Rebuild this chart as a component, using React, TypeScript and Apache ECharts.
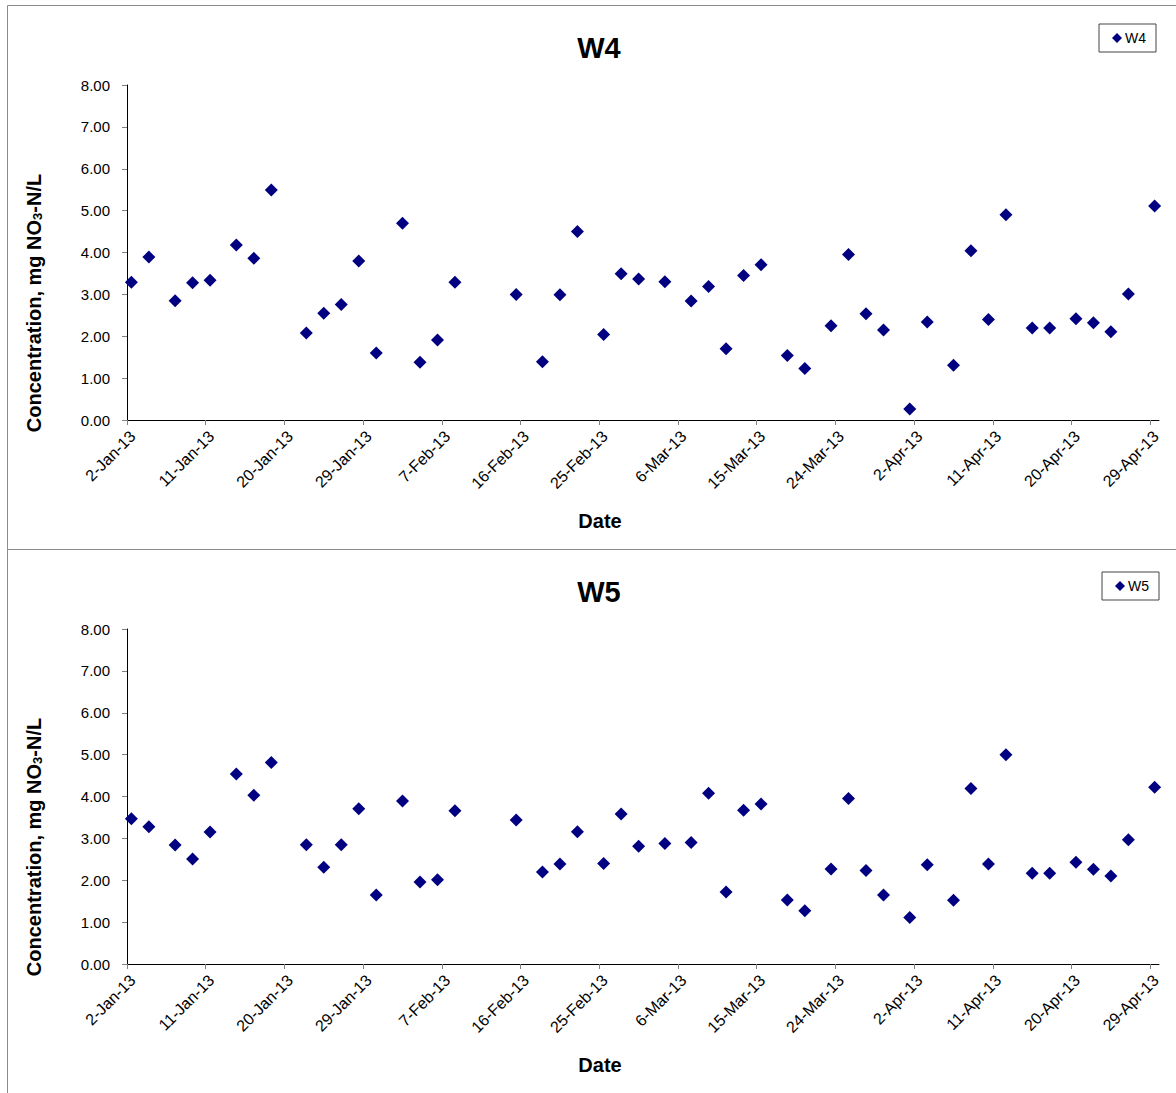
import React, { useEffect, useRef } from "react";
import * as echarts from "echarts";

// Sampling dates (samples drawn around midday)
const DATES = [
  "2013-01-02", "2013-01-04", "2013-01-07", "2013-01-09", "2013-01-11", "2013-01-14", "2013-01-16",
  "2013-01-18", "2013-01-22", "2013-01-24", "2013-01-26", "2013-01-28", "2013-01-30",
  "2013-02-02", "2013-02-04", "2013-02-06", "2013-02-08", "2013-02-15", "2013-02-18", "2013-02-20",
  "2013-02-22", "2013-02-25", "2013-02-27",
  "2013-03-01", "2013-03-04", "2013-03-07", "2013-03-09", "2013-03-11", "2013-03-13", "2013-03-15",
  "2013-03-18", "2013-03-20", "2013-03-23", "2013-03-25", "2013-03-27", "2013-03-29",
  "2013-04-01", "2013-04-03", "2013-04-06", "2013-04-08", "2013-04-10", "2013-04-12", "2013-04-15",
  "2013-04-17", "2013-04-20", "2013-04-22", "2013-04-24", "2013-04-26", "2013-04-29",
];
const SAMPLE_HOUR = 12;

const W4 = [
  3.29, 3.89, 2.85, 3.28, 3.34, 4.18, 3.86, 5.49, 2.08, 2.55, 2.76, 3.8, 1.6,
  4.7, 1.38, 1.91, 3.29, 3.0, 1.39, 2.99, 4.5, 2.04, 3.49,
  3.37, 3.3, 2.84, 3.19, 1.7, 3.45, 3.71, 1.54, 1.23, 2.25, 3.95, 2.54, 2.15,
  0.26, 2.34, 1.31, 4.04, 2.4, 4.9, 2.2, 2.2, 2.42, 2.32, 2.11, 3.01, 5.11,
];

const W5 = [
  3.47, 3.28, 2.84, 2.51, 3.15, 4.54, 4.03, 4.81, 2.85, 2.31, 2.85, 3.71, 1.65,
  3.89, 1.96, 2.01, 3.66, 3.44, 2.2, 2.39, 3.16, 2.4, 3.58,
  2.81, 2.88, 2.9, 4.08, 1.72, 3.67, 3.82, 1.53, 1.27, 2.27, 3.95, 2.23, 1.65,
  1.11, 2.37, 1.52, 4.19, 2.39, 5.0, 2.17, 2.17, 2.43, 2.26, 2.1, 2.97, 4.22,
];

const X_TICK_LABELS = [
  "2-Jan-13", "11-Jan-13", "20-Jan-13", "29-Jan-13", "7-Feb-13", "16-Feb-13", "25-Feb-13",
  "6-Mar-13", "15-Mar-13", "24-Mar-13", "2-Apr-13", "11-Apr-13", "20-Apr-13", "29-Apr-13",
];
const X_MIN_DATE = "2013-01-02";
const X_MAX_DATE = "2013-04-30";
const Y_MIN = 0;
const Y_MAX = 8;
const Y_INTERVAL = 1;

const MONTHS = ["Jan", "Feb", "Mar", "Apr", "May", "Jun", "Jul", "Aug", "Sep", "Oct", "Nov", "Dec"];
const DAY_MS = 86400000;
const utcOf = (s: string) => {
  const [y, m, d] = s.split("-").map(Number);
  return Date.UTC(y, m - 1, d);
};
const BASE = utcOf(X_MIN_DATE);
const dayOf = (s: string) => (utcOf(s) - BASE) / DAY_MS;
const labelDay = (lab: string) => {
  const [d, mon, yy] = lab.split("-");
  return (Date.UTC(2000 + Number(yy), MONTHS.indexOf(mon), Number(d)) - BASE) / DAY_MS;
};
const TICK_DAYS = X_TICK_LABELS.map(labelDay);
const X_MAX = dayOf(X_MAX_DATE);

const FONT = "Liberation Sans, Arial, sans-serif";

export default function App() {
  const ref = useRef<HTMLDivElement>(null);

  useEffect(() => {
    if (!ref.current) return;
    const chart = echarts.init(ref.current, undefined, { renderer: "svg" });

    const grids = [
      { left: 127, top: 85, width: 1032, height: 335 },
      { left: 127, top: 629, width: 1032, height: 335 },
    ];

    const xAxisBase = (gi: number) => ({
      type: "value",
      gridIndex: gi,
      min: 0,
      max: X_MAX,
      splitLine: { show: false },
      axisLine: { show: true, onZero: false, lineStyle: { color: "#000", width: 1 } },
      axisTick: {
        show: true,
        length: 5,
        customValues: TICK_DAYS,
        lineStyle: { color: "#808080" },
      },
      axisLabel: {
        customValues: TICK_DAYS,
        rotate: 45,
        margin: 8,
        verticalAlign: "top",
        fontSize: 16,
        fontFamily: FONT,
        color: "#000",
        formatter: (v: number) => {
          const i = TICK_DAYS.findIndex((t) => Math.abs(t - v) < 1e-6);
          return i >= 0 ? X_TICK_LABELS[i] : "";
        },
      },
    });

    const yAxisBase = (gi: number) => ({
      type: "value",
      gridIndex: gi,
      min: Y_MIN,
      max: Y_MAX,
      interval: Y_INTERVAL,
      splitLine: { show: false },
      axisLine: { show: true, lineStyle: { color: "#000", width: 1 } },
      axisTick: { show: true, length: 5, lineStyle: { color: "#808080" } },
      axisLabel: {
        margin: 17,
        fontSize: 15,
        fontFamily: FONT,
        color: "#000",
        formatter: (v: number) => v.toFixed(2),
      },
    });

    const mkSeries = (name: string, vals: number[], gi: number) => ({
      type: "scatter",
      name,
      xAxisIndex: gi,
      yAxisIndex: gi,
      symbol: "diamond",
      symbolSize: 13,
      itemStyle: { color: "#000080", opacity: 1 },
      data: DATES.map((d, i) => [dayOf(d) + SAMPLE_HOUR / 24, vals[i]]),
    });

    const mkLegend = (name: string, left: number, top: number) => ({
      data: [name],
      left,
      top,
      orient: "horizontal",
      selectedMode: false,
      icon: "diamond",
      itemWidth: 10,
      itemHeight: 10,
      padding: [7, 10, 7, 13],
      borderColor: "#444",
      borderWidth: 1,
      borderRadius: 0,
      textStyle: { fontSize: 14, fontFamily: FONT, color: "#000", padding: [0, 0, 0, -2] },
    });

    const yName = (cy: number) => ({
      type: "text",
      x: 34,
      y: cy,
      rotation: Math.PI / 2,
      silent: true,
      style: {
        text: "{a|Concentration, mg NO}{s|3}{a|-N/L}",
        align: "center",
        verticalAlign: "middle",
        rich: {
          a: { fontSize: 20, fontWeight: "bold", fontFamily: FONT, fill: "#000", verticalAlign: "bottom" },
          s: { fontSize: 13, fontWeight: "bold", fontFamily: FONT, fill: "#000", verticalAlign: "bottom" },
        },
      },
    });

    const plainText = (text: string, x: number, y: number, size: number) => ({
      type: "text",
      x,
      y,
      silent: true,
      style: {
        text,
        align: "center",
        verticalAlign: "middle",
        fontSize: size,
        fontWeight: "bold",
        fontFamily: FONT,
        fill: "#000",
      },
    });

    chart.setOption({
      animation: false,
      backgroundColor: "#fff",
      grid: grids,
      xAxis: [xAxisBase(0), xAxisBase(1)],
      yAxis: [yAxisBase(0), yAxisBase(1)],
      legend: [mkLegend("W4", 1099, 24), mkLegend("W5", 1102, 572)],
      series: [mkSeries("W4", W4, 0), mkSeries("W5", W5, 1)],
      graphic: [
        {
          type: "rect",
          silent: true,
          shape: { x: 7.5, y: 5.5, width: 1300, height: 544 },
          style: { fill: "none", stroke: "#8c8c8c", lineWidth: 1 },
        },
        {
          type: "rect",
          silent: true,
          shape: { x: 7.5, y: 549.5, width: 1300, height: 700 },
          style: { fill: "none", stroke: "#8c8c8c", lineWidth: 1 },
        },
        plainText("W4", 599, 48, 29),
        plainText("W5", 599, 592, 29),
        plainText("Date", 600, 521, 20),
        plainText("Date", 600, 1065, 20),
        yName(303),
        yName(847),
      ],
    });

    return () => chart.dispose();
  }, []);

  return (
    <div
      ref={ref}
      style={{ position: "fixed", left: 0, top: 0, width: 1176, height: 1093, background: "#fff" }}
    />
  );
}
